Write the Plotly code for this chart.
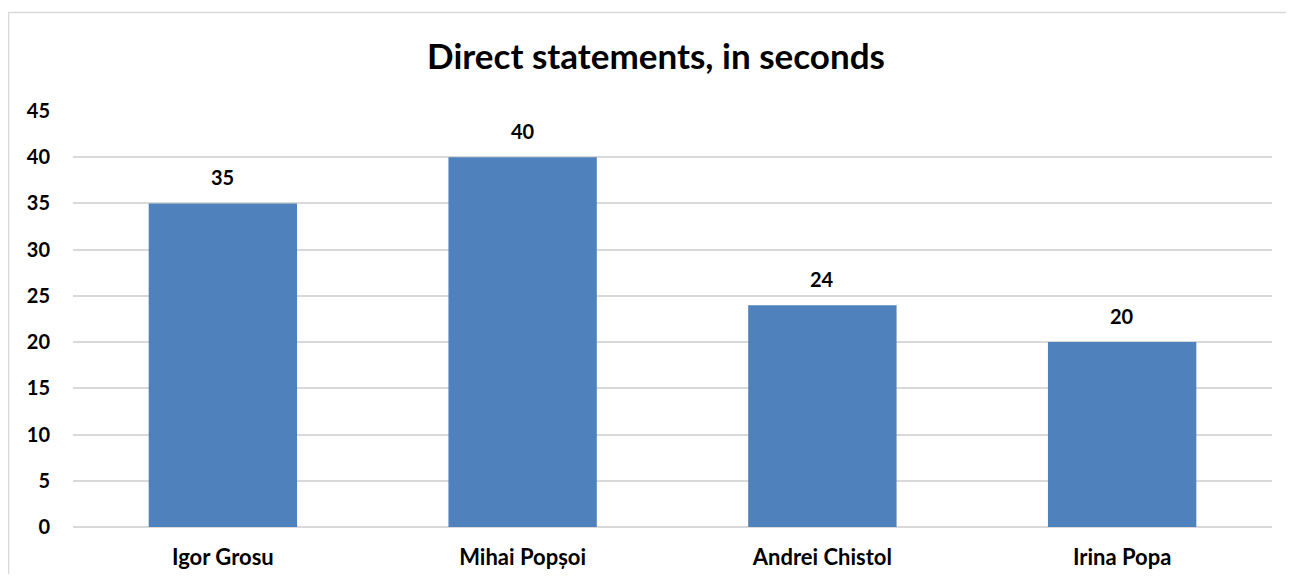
import plotly.graph_objects as go

categories = ["Igor Grosu", "Mihai Popșoi", "Andrei Chistol", "Irina Popa"]
values = [35, 40, 24, 20]
y_ticks = [0, 5, 10, 15, 20, 25, 30, 35, 40, 45]

# page has an 8px body margin; figure sized to fit inside
OFF = 8
W, H = 1294 - 2 * OFF, 582 - 2 * OFF
L, T = 73 - OFF, 111 - OFF
R = W + OFF - 1272
B = H + OFF - 527
pw, ph = W - L - R, H - T - B

def px_x(x):
    return (x - OFF - L) / pw

def px_y(y):
    return (H + OFF - B - y) / ph

FONT = "Lato, Open Sans, sans-serif"

fig = go.Figure(go.Bar(
    x=categories, y=values,
    marker=dict(color="#4F81BD", line=dict(width=0)),
    width=0.495,
    hoverinfo="x+y",
))

for c, v in zip(categories, values):
    fig.add_annotation(x=c, y=v, xref="x", yref="y", text=f"<b>{v}</b>",
                       showarrow=False, yanchor="bottom", yshift=12,
                       font=dict(family=FONT, size=20, color="#000000"))

fig.update_layout(
    width=W, height=H,
    margin=dict(l=L, r=R, t=T, b=B, autoexpand=False),
    paper_bgcolor="white", plot_bgcolor="white",
    title=dict(text="<b>Direct statements, in seconds</b>",
               x=(656 - OFF) / W, xref="container", xanchor="center",
               y=1 - (57 - OFF) / H, yanchor="middle",
               font=dict(family=FONT, size=35, color="#000000")),
    font=dict(family=FONT, color="#000000"),
    showlegend=False,
    xaxis=dict(showgrid=False, showline=False, ticks="", automargin=False,
               tickfont=dict(size=22, weight="bold"), ticklabelstandoff=15),
    yaxis=dict(range=[0, 45], tickvals=y_ticks, showgrid=True, automargin=False,
               gridcolor="#D9D9D9", gridwidth=1.5, zeroline=True,
               zerolinecolor="#D9D9D9", zerolinewidth=1.5, showline=False,
               ticks="", tickfont=dict(size=20, weight="bold"), ticklabelstandoff=22),
    shapes=[dict(type="rect", xref="paper", yref="paper",
                 x0=px_x(8.5), x1=px_x(1320), y0=px_y(12.5), y1=px_y(620),
                 line=dict(color="#D9D9D9", width=1.5), fillcolor="rgba(0,0,0,0)",
                 layer="below")],
)

fig.write_html("out.html")
